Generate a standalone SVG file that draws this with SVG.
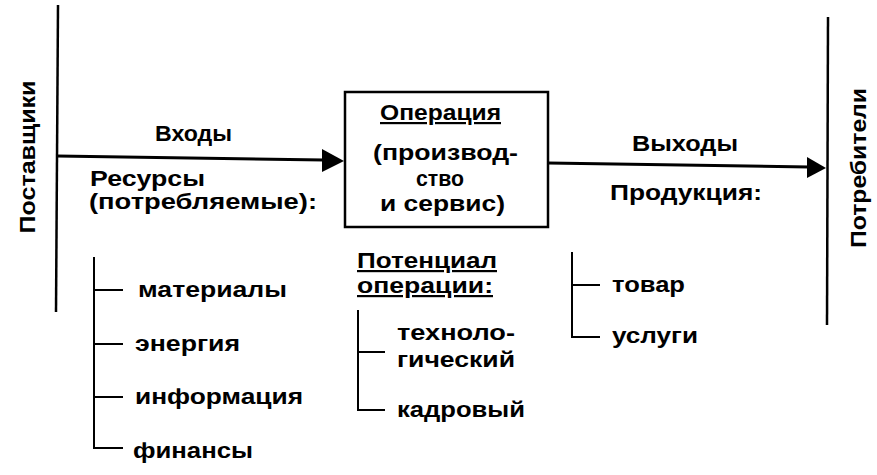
<svg xmlns="http://www.w3.org/2000/svg" width="877" height="475" viewBox="0 0 877 475">
<style>
text{font-family:"Liberation Sans",Arial,sans-serif;font-weight:bold;font-size:22px;fill:#000}
.u{text-decoration:underline}
.ln{stroke:#000;stroke-width:2.5;fill:none}
.br{stroke:#000;stroke-width:2;fill:none}
</style>
<rect width="877" height="475" fill="#fff"/>
<g id="suppliers">
<line class="ln" x1="58" y1="5" x2="56" y2="312"/>
<text transform="translate(35,157) rotate(-90)" text-anchor="middle" textLength="153" lengthAdjust="spacingAndGlyphs">Поставщики</text>
</g>
<g id="consumers">
<line class="ln" x1="828" y1="17" x2="827" y2="325"/>
<text transform="translate(866,168) rotate(-90)" text-anchor="middle" textLength="160" lengthAdjust="spacingAndGlyphs">Потребители</text>
</g>
<g id="operation">
<rect x="345" y="92" width="203" height="135" fill="#fff" stroke="#000" stroke-width="2.5"/>
<text class="u" x="380" y="120" textLength="121" lengthAdjust="spacingAndGlyphs">Операция</text>
<text x="373" y="160" textLength="145" lengthAdjust="spacingAndGlyphs">(производ-</text>
<text x="416" y="186" textLength="48" lengthAdjust="spacingAndGlyphs">ство</text>
<text x="380" y="211" textLength="125" lengthAdjust="spacingAndGlyphs">и  сервис)</text>
</g>
<g id="connectors">
<line x1="57" y1="156" x2="324" y2="160" stroke="#000" stroke-width="3"/>
<polygon points="322,149 344,161 322,172" fill="#000"/>
<line x1="548" y1="163" x2="809" y2="167" stroke="#000" stroke-width="3"/>
<polygon points="807,157 826,168 807,178" fill="#000"/>
</g>
<g id="inputs">
<text x="155" y="141" textLength="77" lengthAdjust="spacingAndGlyphs">Входы</text>
<text x="90" y="186" textLength="115" lengthAdjust="spacingAndGlyphs">Ресурсы</text>
<text x="89" y="209" textLength="228" lengthAdjust="spacingAndGlyphs">(потребляемые):</text>
</g>
<g id="outputs">
<text x="632" y="151" textLength="106" lengthAdjust="spacingAndGlyphs">Выходы</text>
<text x="610" y="200" textLength="152" lengthAdjust="spacingAndGlyphs">Продукция:</text>
</g>
<g id="resources-list">
<path class="br" d="M94,257 V448 H123 M94,290 H123 M94,344 H123 M94,397 H123"/>
<text x="138" y="297" textLength="149" lengthAdjust="spacingAndGlyphs">материалы</text>
<text x="135" y="351" textLength="105" lengthAdjust="spacingAndGlyphs">энергия</text>
<text x="135" y="404" textLength="168" lengthAdjust="spacingAndGlyphs">информация</text>
<text x="133" y="458" textLength="120" lengthAdjust="spacingAndGlyphs">финансы</text>
</g>
<g id="potential">
<text class="u" x="357" y="268" textLength="140" lengthAdjust="spacingAndGlyphs">Потенциал</text>
<text class="u" x="357" y="293" textLength="136" lengthAdjust="spacingAndGlyphs">операции:</text>
<path class="br" d="M358,310 V410 H385 M358,352 H385"/>
<text x="397" y="340" textLength="118" lengthAdjust="spacingAndGlyphs">техноло-</text>
<text x="397" y="367" textLength="118" lengthAdjust="spacingAndGlyphs">гический</text>
<text x="397" y="417" textLength="128" lengthAdjust="spacingAndGlyphs">кадровый</text>
</g>
<g id="products-list">
<path class="br" d="M572,252 V337 H600 M572,285 H600"/>
<text x="612" y="292" textLength="73" lengthAdjust="spacingAndGlyphs">товар</text>
<text x="612" y="343" textLength="86" lengthAdjust="spacingAndGlyphs">услуги</text>
</g>
</svg>
